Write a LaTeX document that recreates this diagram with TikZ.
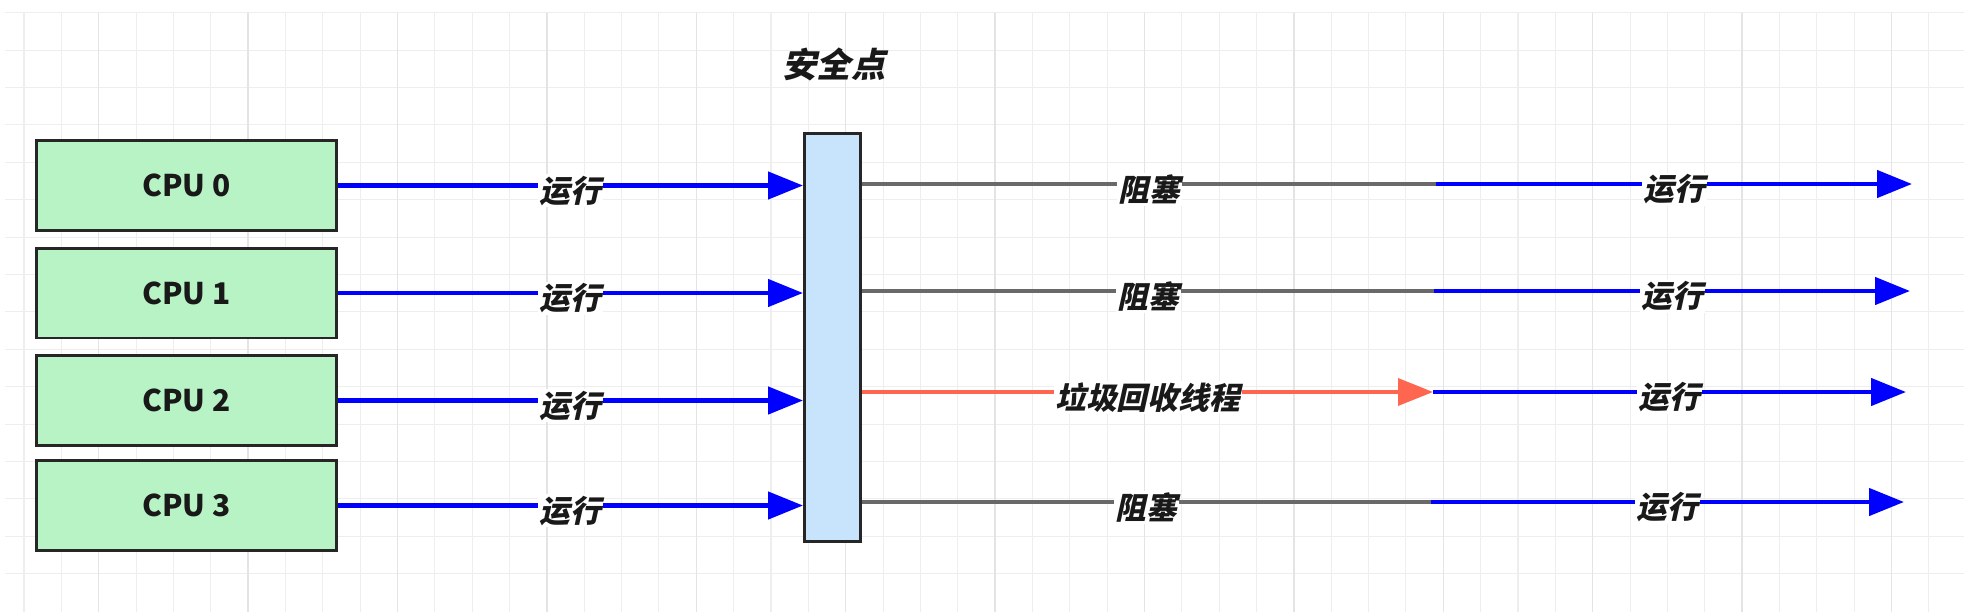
\documentclass[tikz,border=0pt]{standalone}
\usepackage{fontspec}
\usepackage{xcolor}
\usepackage{tikz}
\usetikzlibrary{arrows.meta,positioning,calc}
\newfontfamily\cjk{Noto Sans CJK SC}
\newfontfamily\cjksl{Noto Sans CJK SC}[FakeSlant=0.22]
\definecolor{cpugreen}{RGB}{184,243,198}
\definecolor{barblue}{RGB}{200,228,252}
\definecolor{gcred}{RGB}{255,102,80}
\definecolor{blockgray}{RGB}{105,105,105}
\definecolor{gridminor}{RGB}{238,238,238}
\definecolor{gridmajor}{RGB}{228,228,228}

\begin{document}
\begin{tikzpicture}[x=0.02cm,y=-0.02cm,>={Triangle[length=0.7cm,width=0.54cm]},
  cpubox/.style={draw=black!85,line width=1.7pt,fill=cpugreen,minimum width=6.02cm,minimum height=1.8cm,
    font=\cjk\bfseries\fontsize{17}{20}\selectfont,text=black!90},
  sbar/.style={draw=black!85,line width=1.7pt,fill=barblue,minimum width=1.12cm,minimum height=8.18cm},
  lbl/.style={fill=white,inner sep=1pt,font=\cjksl\bfseries\fontsize{17.5}{20}\selectfont,text=black!90},
  run/.style={blue,line width=2.6pt},
  blk/.style={draw=blockgray,line width=2.1pt},
  gc/.style={gcred,line width=2pt}]
  \useasboundingbox (0,0) rectangle (1964,612);
  \fill[white] (0,0) rectangle (1964,612);
  \foreach \j in {0,...,15} \draw[gridminor,line width=0.6pt] (5,12.7+37.4*\j) -- (1964,12.7+37.4*\j);
  \foreach \i in {0,...,51} \draw[gridminor,line width=0.6pt] (24+37.35*\i,12.7) -- (24+37.35*\i,612);
  \foreach \i in {2,6,...,50} \draw[gridmajor,line width=0.8pt] (24+37.35*\i,12.7) -- (24+37.35*\i,612);

  \node[lbl,fill=none,font=\cjksl\bfseries\fontsize{19.5}{22}\selectfont] (safe) at (834,64) {安全点};
  \node[sbar] (bar) at (832.5,337.5) {};
  \foreach \n/\y in {0/185.5,1/293,2/400.5,3/505.5}
    \node[cpubox] (cpu\n) at (186.5,\y) {CPU \n};
  \foreach \n in {0,...,3}
    \draw[run,->] (cpu\n.east) -- (cpu\n.east -| bar.west) node[lbl,midway,yshift=-3pt] {运行};

  \foreach \n/\y/\m/\e in {0/184/1436/1912,1/291/1434/1910,2/392/1433/1906,3/502/1431/1904} {
    \coordinate (mid\n) at (\m,\y);
    \coordinate (end\n) at (\e,\y);
  }
  \foreach \n in {0,1,3}
    \draw[blk] (bar.east |- mid\n) -- (mid\n) node[lbl,midway,yshift=-3pt] {阻塞};
  \draw[gc,->] (bar.east |- mid2) -- (mid2) node[lbl,midway,yshift=-3pt] {垃圾回收线程};
  \foreach \n in {0,...,3}
    \draw[run,->] (mid\n) -- (end\n) node[lbl,midway,yshift=-3pt] {运行};
\end{tikzpicture}
\end{document}
